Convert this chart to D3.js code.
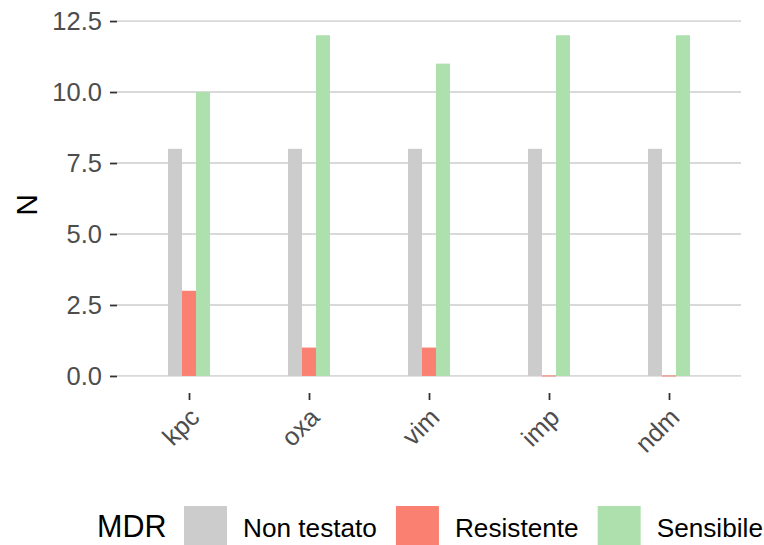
<!DOCTYPE html>
<html>
<head>
<meta charset="utf-8">
<script src="https://cdn.jsdelivr.net/npm/d3@7"></script>
<style>
  html, body { margin: 0; padding: 0; background: #ffffff; }
  svg { display: block; font-family: "Liberation Sans", Arial, sans-serif; }
</style>
</head>
<body>
<svg id="chart" width="764" height="545"></svg>
<script>
// ---- data ----
const categories = ["kpc", "oxa", "vim", "imp", "ndm"];
const seriesNames = ["Non testato", "Resistente", "Sensibile"];
const nonTestato = [8, 8, 8, 8, 8];
const resistente = [3, 1, 1, 0, 0];
const sensibile = [10, 12, 11, 12, 12];
const yTicks = [0, 2.5, 5, 7.5, 10, 12.5];
const colors = ["#cccccc", "#fa8072", "#ade0ad"];
const legendTitle = "MDR";
const yTitle = "N";

const seriesValues = [nonTestato, resistente, sensibile];

const svg = d3.select("#chart");
const panel = { left: 117, right: 741, top: 18.2, bottom: 393 };

const x = d3.scalePoint().domain(categories).range([panel.left, panel.right]).padding(0.6);
const step = x.step();
const y = d3.scaleLinear().domain([-0.6, 12.6]).range([panel.bottom, panel.top]);

const dodge = d3.scaleBand().domain(seriesNames).range([-0.175 * step, 0.175 * step]).padding(0);

// gridlines
svg.append("g").selectAll("line").data(yTicks).join("line")
  .attr("x1", panel.left).attr("x2", panel.right)
  .attr("y1", d => y(d)).attr("y2", d => y(d))
  .attr("stroke", "#d9d9d9").attr("stroke-width", 1.8);

// bars
const rows = [];
seriesNames.forEach((s, si) => {
  categories.forEach((c, ci) => rows.push({ s, si, c, v: seriesValues[si][ci] }));
});
svg.append("g").selectAll("rect").data(rows).join("rect")
  .attr("x", d => x(d.c) + dodge(d.s))
  .attr("width", dodge.bandwidth())
  .attr("y", d => d.v === 0 ? y(0) - 0.5 : y(d.v))
  .attr("height", d => d.v === 0 ? 1 : y(0) - y(d.v))
  .attr("fill", d => colors[d.si]);

// y axis
const yAxis = svg.append("g").attr("transform", `translate(${panel.left},0)`)
  .call(d3.axisLeft(y).tickValues(yTicks).tickFormat(d3.format(".1f")).tickSize(7).tickPadding(8));
yAxis.select(".domain").remove();
yAxis.selectAll(".tick line").attr("stroke", "#333333").attr("stroke-width", 1.8);
yAxis.selectAll(".tick text").attr("fill", "#4d4d4d").style("font-size", "25.5px")
  .style("font-family", "'Liberation Sans', Arial, sans-serif");

// x axis
const xAxis = svg.append("g").attr("transform", `translate(0,${panel.bottom})`)
  .call(d3.axisBottom(x).tickSize(7).tickFormat(""));
xAxis.select(".domain").remove();
xAxis.selectAll(".tick line").attr("stroke", "#333333").attr("stroke-width", 1.8);

svg.append("g").selectAll("text").data(categories).join("text")
  .attr("transform", d => `translate(${x(d) + 12},419) rotate(-45)`)
  .attr("text-anchor", "end")
  .attr("fill", "#4d4d4d")
  .style("font-size", "25.5px")
  .text(d => d);

// y title
svg.append("text")
  .attr("transform", "translate(37,205) rotate(-90)")
  .attr("text-anchor", "middle")
  .attr("fill", "#000000")
  .style("font-size", "30px")
  .text(yTitle);

// legend
const lg = svg.append("g");
lg.append("text").attr("x", 97).attr("y", 537).attr("fill", "#000000")
  .style("font-size", "30.5px").text(legendTitle);
let lx = 184;
seriesNames.forEach((s, i) => {
  lg.append("rect").attr("x", lx).attr("y", 506).attr("width", 43).attr("height", 43).attr("fill", colors[i]);
  const t = lg.append("text").attr("x", lx + 59).attr("y", 537).attr("fill", "#000000")
    .style("font-size", "26.2px").text(s);
  const w = t.node().getComputedTextLength();
  lx = lx + 59 + w + 19;
});
</script>
</body>
</html>
